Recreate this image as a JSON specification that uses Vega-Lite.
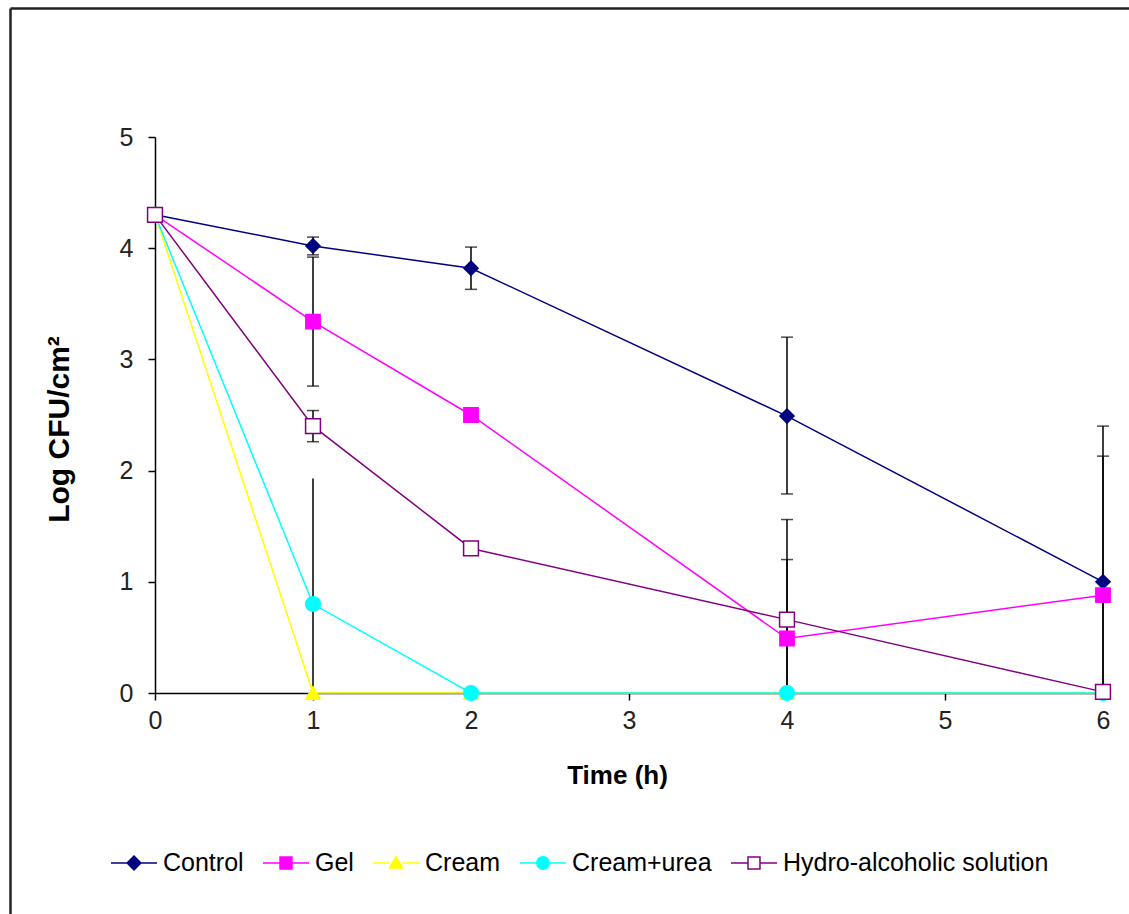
{
  "$schema": "https://vega.github.io/schema/vega-lite/v6.json",
  "autosize": {"type": "none"},
  "padding": {"left": 10, "top": 8, "right": 0, "bottom": 0},
  "width": 1119,
  "height": 906,
  "background": "white",
  "config": {
    "view": {"stroke": null},
    "font": "Liberation Sans",
    "axis": {"grid": false},
    "legend": {"symbolOpacity": 1}
  },
  "datasets": {
    "series": [
      {"series": "Control", "time": 0, "value": 4.3},
      {"series": "Control", "time": 1, "value": 4.02},
      {"series": "Control", "time": 2, "value": 3.82},
      {"series": "Control", "time": 4, "value": 2.49},
      {"series": "Control", "time": 6, "value": 1.0},
      {"series": "Gel", "time": 0, "value": 4.3},
      {"series": "Gel", "time": 1, "value": 3.34},
      {"series": "Gel", "time": 2, "value": 2.5},
      {"series": "Gel", "time": 4, "value": 0.49},
      {"series": "Gel", "time": 6, "value": 0.88},
      {"series": "Cream", "time": 0, "value": 4.3},
      {"series": "Cream", "time": 1, "value": 0},
      {"series": "Cream", "time": 2, "value": 0},
      {"series": "Cream", "time": 4, "value": 0},
      {"series": "Cream", "time": 6, "value": 0},
      {"series": "Cream+urea", "time": 0, "value": 4.3},
      {"series": "Cream+urea", "time": 1, "value": 0.8},
      {"series": "Cream+urea", "time": 2, "value": 0},
      {"series": "Cream+urea", "time": 4, "value": 0},
      {"series": "Cream+urea", "time": 6, "value": 0},
      {"series": "Hydro-alcoholic solution", "time": 0, "value": 4.3},
      {"series": "Hydro-alcoholic solution", "time": 1, "value": 2.4},
      {"series": "Hydro-alcoholic solution", "time": 2, "value": 1.3},
      {"series": "Hydro-alcoholic solution", "time": 4, "value": 0.66},
      {"series": "Hydro-alcoholic solution", "time": 6, "value": 0.01}
    ],
    "errors": [
      {"series": "Control", "time": 1, "lo": 3.94, "hi": 4.1},
      {"series": "Control", "time": 2, "lo": 3.63, "hi": 4.01},
      {"series": "Control", "time": 4, "lo": 1.79, "hi": 3.2},
      {"series": "Control", "time": 6, "lo": 0, "hi": 2.4},
      {"series": "Gel", "time": 1, "lo": 2.76, "hi": 3.92},
      {"series": "Gel", "time": 4, "lo": 0, "hi": 1.2},
      {"series": "Gel", "time": 6, "lo": 0, "hi": 2.13},
      {"series": "Cream+urea", "time": 1, "lo": 0, "hi": 1.93},
      {"series": "Hydro-alcoholic solution", "time": 1, "lo": 2.26, "hi": 2.54},
      {"series": "Hydro-alcoholic solution", "time": 4, "lo": 0, "hi": 1.56}
    ],
    "caps": [
      {"time": 1, "cap": 4.1},
      {"time": 1, "cap": 3.94},
      {"time": 2, "cap": 4.01},
      {"time": 2, "cap": 3.63},
      {"time": 4, "cap": 3.2},
      {"time": 4, "cap": 1.79},
      {"time": 6, "cap": 2.4},
      {"time": 1, "cap": 3.92},
      {"time": 1, "cap": 2.76},
      {"time": 4, "cap": 1.2},
      {"time": 6, "cap": 2.13},
      {"time": 1, "cap": 2.54},
      {"time": 1, "cap": 2.26},
      {"time": 4, "cap": 1.56}
    ],
    "frame": [{"fx": 0, "fy": 0}]
  },
  "layer": [
    {
      "data": {"name": "frame"},
      "mark": {"type": "point", "opacity": 0},
      "encoding": {
        "x": {"field": "fx", "type": "quantitative", "scale": {"domain": [0, 1]},
          "axis": {"orient": "top", "offset": 0, "domain": true, "domainColor": "#222", "domainWidth": 2.5, "ticks": false, "labels": false, "title": null}},
        "y": {"field": "fy", "type": "quantitative", "scale": {"domain": [0, 1]},
          "axis": {"orient": "left", "offset": 0, "domain": true, "domainColor": "#222", "domainWidth": 2.5, "ticks": false, "labels": false, "title": null}}
      }
    },
    {
      "layer": [
        {
          "data": {"name": "errors"},
          "mark": {"type": "rule", "color": "black", "strokeWidth": 1.5},
          "encoding": {
            "x": {"field": "time", "type": "quantitative",
              "scale": {"domain": [0, 6], "range": [145, 1093], "nice": false, "zero": false},
              "axis": {"orient": "bottom", "offset": -221, "values": [0, 1, 2, 3, 4, 5, 6], "format": "d",
                "domainColor": "black", "domainWidth": 1.5, "tickColor": "black", "tickWidth": 1.5, "tickSize": 7,
                "labelFontSize": 25, "labelColor": "#222", "labelPadding": 8, "labelFlush": false, "labelOverlap": false,
                "title": "Time (h)", "titleFontSize": 26, "titleFontWeight": "bold", "titleColor": "black",
                "titleX": 607, "titleY": 82, "titleBaseline": "middle", "titleAlign": "center"}},
            "y": {"field": "lo", "type": "quantitative",
              "scale": {"domain": [0, 5], "range": [685, 129], "nice": false, "zero": false},
              "axis": {"orient": "left", "offset": -145, "values": [0, 1, 2, 3, 4, 5], "format": "d",
                "domainColor": "black", "domainWidth": 1.5, "tickColor": "black", "tickWidth": 1.5, "tickSize": 7,
                "labelFontSize": 25, "labelColor": "#222", "labelPadding": 15, "labelFlush": false, "labelOverlap": false,
                "title": "Log CFU/cm²", "titleFontSize": 30, "titleFontWeight": "bold", "titleColor": "black",
                "titleAngle": -90, "titleX": -96, "titleY": 421, "titleBaseline": "middle", "titleAlign": "center"}},
            "y2": {"field": "hi"}
          }
        },
        {
          "data": {"name": "caps"},
          "mark": {"type": "tick", "orient": "horizontal", "color": "black", "thickness": 1.5, "size": 12},
          "encoding": {
            "x": {"field": "time", "type": "quantitative"},
            "y": {"field": "cap", "type": "quantitative"}
          }
        },
        {
          "data": {"name": "series"},
          "mark": {"type": "line", "strokeWidth": 1.5},
          "encoding": {
            "x": {"field": "time", "type": "quantitative"},
            "y": {"field": "value", "type": "quantitative"},
            "stroke": {"field": "series", "type": "nominal",
              "scale": {"domain": ["Control", "Gel", "Cream", "Cream+urea", "Hydro-alcoholic solution"],
                "range": ["#000080", "#ff00ff", "#ffff00", "#00ffff", "#800080"]},
              "legend": null}
          }
        },
        {
          "data": {"name": "series"},
          "mark": {"type": "point", "filled": true, "opacity": 1, "strokeWidth": 1.5},
          "encoding": {
            "x": {"field": "time", "type": "quantitative"},
            "y": {"field": "value", "type": "quantitative"},
            "fill": {"field": "series", "type": "nominal",
              "scale": {"domain": ["Control", "Gel", "Cream", "Cream+urea", "Hydro-alcoholic solution"],
                "range": ["#000080", "#ff00ff", "#ffff00", "#00ffff", "#ffffff"]},
              "legend": null},
            "stroke": {"field": "series", "type": "nominal",
              "scale": {"domain": ["Control", "Gel", "Cream", "Cream+urea", "Hydro-alcoholic solution"],
                "range": ["#000080", "#ff00ff", "#ffff00", "#00ffff", "#800080"]},
              "legend": null},
            "shape": {"field": "series", "type": "nominal",
              "scale": {"domain": ["Control", "Gel", "Cream", "Cream+urea", "Hydro-alcoholic solution"],
                "range": ["diamond", "square", "triangle-up", "circle", "square"]},
              "legend": null},
            "size": {"field": "series", "type": "nominal",
              "scale": {"domain": ["Control", "Gel", "Cream", "Cream+urea", "Hydro-alcoholic solution"],
                "range": [200, 220, 170, 280, 200]},
              "legend": null}
          }
        },
        {
          "data": {"name": "series"},
          "transform": [{"filter": "datum.time == 0"}],
          "mark": {"type": "point", "filled": true, "opacity": 0, "strokeWidth": 1.5},
          "encoding": {
            "x": {"field": "time", "type": "quantitative"},
            "y": {"field": "value", "type": "quantitative"},
            "fill": {"field": "series", "type": "nominal",
              "scale": {"domain": ["Control", "Gel", "Cream", "Cream+urea", "Hydro-alcoholic solution"],
                "range": ["#000080", "#ff00ff", "#ffff00", "#00ffff", "#ffffff"]},
              "legend": {"title": null, "orient": "none", "legendX": 100, "legendY": 831, "direction": "horizontal", "columns": 5,
                "symbolSize": 2116, "symbolStrokeWidth": 1.5, "labelFontSize": 25, "labelColor": "black", "labelOffset": 5,
                "columnPadding": 16, "padding": 0, "labelLimit": 400}},
            "stroke": {"field": "series", "type": "nominal",
              "scale": {"domain": ["Control", "Gel", "Cream", "Cream+urea", "Hydro-alcoholic solution"],
                "range": ["#000080", "#ff00ff", "#ffff00", "#00ffff", "#800080"]},
              "legend": {"title": null, "orient": "none", "legendX": 100, "legendY": 831, "direction": "horizontal", "columns": 5,
                "symbolSize": 2116, "symbolStrokeWidth": 1.5, "labelFontSize": 25, "labelColor": "black", "labelOffset": 5,
                "columnPadding": 16, "padding": 0, "labelLimit": 400}},
            "shape": {"field": "series", "type": "nominal",
              "scale": {"domain": ["Control", "Gel", "Cream", "Cream+urea", "Hydro-alcoholic solution"],
                "range": [
                  "M-1,0H-0.3M0,-0.3L0.3,0L0,0.3L-0.3,0ZM0.3,0H1",
                  "M-1,0H-0.26M-0.26,-0.26H0.26V0.26H-0.26ZM0.26,0H1",
                  "M-1,0H-0.28M0,-0.28L0.28,0.22L-0.28,0.22ZM0.28,0H1",
                  "M-1,0H-0.27M-0.27,0A0.27,0.27 0 1,0 0.27,0A0.27,0.27 0 1,0 -0.27,0ZM0.27,0H1",
                  "M-1,0H-0.26M-0.26,-0.26H0.26V0.26H-0.26ZM0.26,0H1"
                ]},
              "legend": {"title": null, "orient": "none", "legendX": 100, "legendY": 831, "direction": "horizontal", "columns": 5,
                "symbolSize": 2116, "symbolStrokeWidth": 1.5, "labelFontSize": 25, "labelColor": "black", "labelOffset": 5,
                "columnPadding": 16, "padding": 0, "labelLimit": 400}}
          }
        }
      ],
      "resolve": {"scale": {"fill": "independent", "stroke": "independent", "shape": "independent", "size": "independent"}}
    }
  ],
  "resolve": {"scale": {"x": "independent", "y": "independent"}, "axis": {"x": "independent", "y": "independent"}}
}
